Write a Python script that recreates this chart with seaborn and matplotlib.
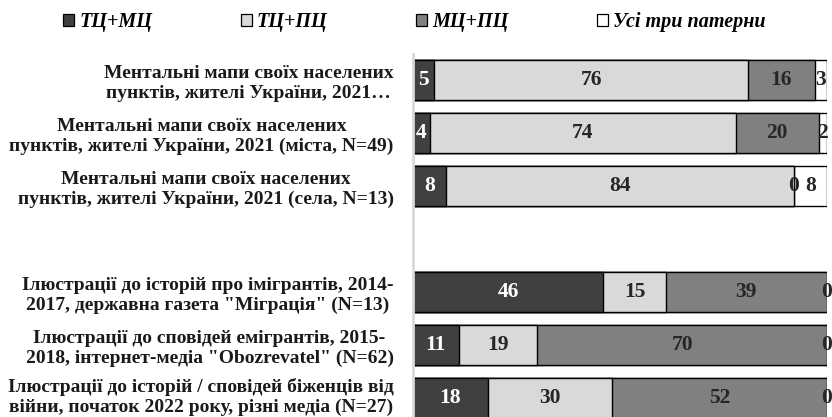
import pandas as pd
import numpy as np
import matplotlib
matplotlib.use("Agg")
import matplotlib.pyplot as plt
import matplotlib.transforms as mtransforms
import seaborn as sns
from matplotlib.patches import Patch

# Дані з рисунку
categories = [
    "Ментальні мапи своїх населених\nпунктів, жителі України, 2021…",
    "Ментальні мапи своїх населених\nпунктів, жителі України, 2021 (міста, N=49)",
    "Ментальні мапи своїх населених\nпунктів, жителі України, 2021 (села, N=13)",
    " ",
    "Ілюстрації до історій про імігрантів, 2014-\n2017, державна газета \"Міграція\" (N=13)",
    "Ілюстрації до сповідей емігрантів, 2015-\n2018, інтернет-медіа \"Obozrevatel\" (N=62)",
    "Ілюстрації до історій / сповідей біженців від\nвійни, початок 2022 року, різні медіа (N=27)",
]
series_names = ["ТЦ+МЦ", "ТЦ+ПЦ", "МЦ+ПЦ", "Усі три патерни"]
tc_mc = [5, 4, 8, np.nan, 46, 11, 18]
tc_pc = [76, 74, 84, np.nan, 15, 19, 30]
mc_pc = [16, 20, 0, np.nan, 39, 70, 52]
all_three = [3, 2, 8, np.nan, 0, 0, 0]

colors = ["#404040", "#d9d9d9", "#808080", "#ffffff"]
text_colors = ["white", "#262626", "#262626", "#262626"]

plt.rcParams['font.family'] = ['Liberation Serif', 'DejaVu Serif']
plt.rcParams['font.weight'] = 'bold'

values = np.array([tc_mc, tc_pc, mc_pc, all_three], dtype=float)
cums = np.cumsum(values, axis=0)

fig = plt.figure(figsize=(8.32, 4.17), dpi=100)
ax = fig.add_axes([413 / 832, -0.018, 414 / 832, 0.8897])

# накладаємо кумулятивні смуги від найдовшої до найкоротшої
for i in range(3, -1, -1):
    df = pd.DataFrame({'label': categories, 'x': cums[i]})
    sns.barplot(data=df, x='x', y='label', order=categories, orient='h',
                color=colors[i], saturation=1, edgecolor='black',
                linewidth=1.0, width=0.77, errorbar=None, ax=ax)

# підписи значень
for i in range(4):
    for j, cat in enumerate(categories):
        v = values[i, j]
        if np.isnan(v):
            continue
        left = cums[i, j] - v
        ax.text(left + v / 2, j, f"{v:.0f}", ha='center', va='center',
                color=text_colors[i], fontsize=15.5, fontweight='bold')

ax.set_xlim(0, 100)
ax.set_xlabel('')
ax.set_ylabel('')
ax.set_xticks([])
ax.tick_params(axis='y', length=0, pad=14, labelsize=14, labelcolor='#1a1a1a')
for lbl in ax.get_yticklabels():
    lbl.set_multialignment('center')
    lbl.set_fontweight('bold')
    lbl.set_linespacing(1.2)
# останній підпис трохи вище, щоб не обрізався
last = ax.get_yticklabels()[-1]
last.set_transform(last.get_transform() +
                   mtransforms.ScaledTranslation(0, 4 / 100, fig.dpi_scale_trans))
for s in ['top', 'right', 'bottom']:
    ax.spines[s].set_visible(False)
ax.spines['left'].set_color('#d9d9d9')
ax.spines['left'].set_linewidth(2)

handles = [Patch(facecolor=c, edgecolor='black', linewidth=0.9) for c in colors]
fig.legend(handles, series_names, loc='center left', bbox_to_anchor=(53 / 832, 0.947),
           ncol=4, frameon=False, borderpad=0, handlelength=0.55, handleheight=0.55,
           handletextpad=0.25, columnspacing=4.4,
           prop={'family': 'Liberation Serif', 'style': 'italic', 'weight': 'bold', 'size': 14.5})

fig.savefig("out.png", dpi=100)
